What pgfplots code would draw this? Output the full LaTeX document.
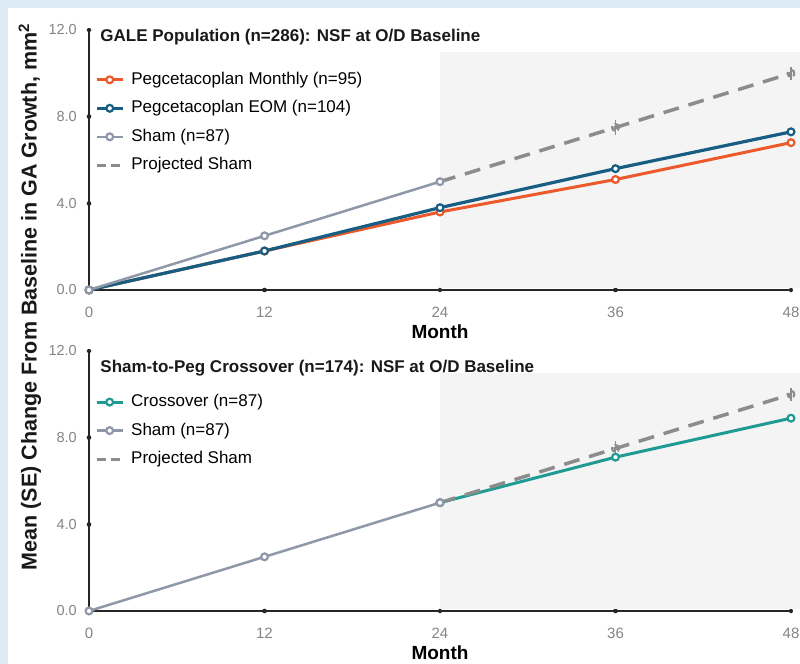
\documentclass[border=0pt]{standalone}
\usepackage{pgfplots}
\pgfplotsset{compat=1.18}
\usepackage{fontspec}
\setmainfont{Liberation Sans}
\definecolor{bgblue}{HTML}{DDEBF6}
\definecolor{shadegray}{HTML}{F4F4F4}
\definecolor{monthly}{HTML}{EC5A2C}
\definecolor{eom}{HTML}{175E82}
\definecolor{sham}{HTML}{8E98A8}
\definecolor{proj}{HTML}{8C8C8C}
\definecolor{cross}{HTML}{1F9B93}
\definecolor{ticklab}{HTML}{858585}
\tikzset{titlestyle/.style={anchor=west, inner sep=0pt, font=\fontsize{17bp}{21bp}\selectfont\bfseries, text=black!90}}
\pgfplotsset{
  galestyle/.style={
    scale only axis, width=702bp, height=260bp,
    xmin=0, xmax=48, ymin=0, ymax=12,
    axis x line=bottom, axis y line=left,
    axis line style={-, line width=1.6bp, black!85},
    xtick={0,12,24,36,48}, ytick={0,4,8,12},
    major tick length=0.01bp,
    tick style={line width=4.5bp, line cap=round, black!85},
    /pgf/number format/assume math mode=true,
    yticklabel style={/pgf/number format/.cd, fixed, fixed zerofill, precision=1, /tikz/.cd,
      font=\fontsize{14.5bp}{17bp}\selectfont, text=ticklab, anchor=east, inner sep=0pt, xshift=-12bp},
    xticklabel style={font=\fontsize{15bp}{18bp}\selectfont, text=ticklab, anchor=base, inner sep=0pt, yshift=-27bp},
    xlabel={Month},
    xlabel style={font=\fontsize{19bp}{22bp}\selectfont\bfseries, at={(axis description cs:0.5,0)}, anchor=center, yshift=-42bp},
    clip=false,
    legend cell align=left,
    legend style={draw=none, fill=none, inner sep=0pt, row sep=12.5bp,
      font=\fontsize{17bp}{20bp}\selectfont, anchor=north west,
      nodes={inner sep=0pt, text height=12.5bp, text depth=3.5bp},
      /tikz/every odd column/.append style={column sep=7bp}},
    legend image code/.code={\draw[mark repeat=2,mark phase=2,#1] plot coordinates {(0bp,0bp) (13bp,0bp) (26bp,0bp)};},
  },
  mk/.style={mark=*, mark size=3.4bp, mark options={fill=white, solid, line width=2.2bp}},
  projstyle/.style={proj, line width=3.5bp, dash pattern=on 16bp off 10bp, mark=o, mark size=3.4bp,
    mark options={line width=2.2bp, dash pattern=on 6bp off 3bp}, mark indices={2,3}, forget plot,
    error bars/.cd, y dir=both, y explicit, error bar style={line width=1.5bp, solid}, error mark=none},
}
\begin{document}
\begin{tikzpicture}
\useasboundingbox (0,0) rectangle (800bp,664bp);
\fill[bgblue] (0,0) rectangle (800bp,664bp);
\fill[white] (8bp,0) rectangle (800bp,656bp);

\node[rotate=90, font=\fontsize{21.5bp}{25bp}\selectfont\bfseries, text=black!90] at (30bp,367bp)
  {Mean (SE) Change From Baseline in GA Growth, mm\textsuperscript{2}};

% ---------- top panel ----------
\begin{axis}[galestyle, at={(89bp,374bp)}, anchor=south west,
  legend style={at={(rel axis cs:0.0085,0.84)}}]
\fill[shadegray] (axis cs:24,0.08) rectangle (axis cs:48.7,11);
\node[titlestyle] at (rel axis cs:0.016,0.973)
  {GALE Population (n=286): NSF at O/D Baseline};
\addplot[monthly, line width=3bp, mk] coordinates {(0,0) (12,1.8) (24,3.6) (36,5.1) (48,6.8)};
\addlegendentry{Pegcetacoplan Monthly (n=95)}
\addplot[eom, line width=3.2bp, mk] coordinates {(0,0) (12,1.8) (24,3.8) (36,5.6) (48,7.3)};
\addlegendentry{Pegcetacoplan EOM (n=104)}
\addplot[sham, line width=2.5bp, mk] coordinates {(0,0) (12,2.5) (24,5.0)};
\addlegendentry{Sham (n=87)}
\addplot[projstyle]
  coordinates {(24,5.0) +- (0,0) (36,7.5) +- (0,0.35) (48,10.0) +- (0,0.3)};
\addlegendimage{proj, line width=3bp, dash pattern=on 9bp off 5bp}
\addlegendentry{Projected Sham}
\end{axis}

% ---------- bottom panel ----------
\begin{axis}[galestyle, at={(89bp,53bp)}, anchor=south west,
  legend style={at={(rel axis cs:0.0085,0.835)}}]
\fill[shadegray] (axis cs:24,0.08) rectangle (axis cs:48.7,11);
\node[titlestyle] at (rel axis cs:0.016,0.935)
  {Sham-to-Peg Crossover (n=174): NSF at O/D Baseline};
\addplot[cross, line width=3bp, mk] coordinates {(24,5.0) (36,7.1) (48,8.9)};
\addlegendentry{Crossover (n=87)}
\addplot[sham, line width=2.5bp, mk] coordinates {(0,0) (12,2.5) (24,5.0)};
\addlegendentry{Sham (n=87)}
\addplot[projstyle]
  coordinates {(24,5.0) +- (0,0) (36,7.5) +- (0,0.35) (48,10.0) +- (0,0.3)};
\addlegendimage{proj, line width=3bp, dash pattern=on 9bp off 5bp}
\addlegendentry{Projected Sham}
\end{axis}
\end{tikzpicture}
\end{document}
